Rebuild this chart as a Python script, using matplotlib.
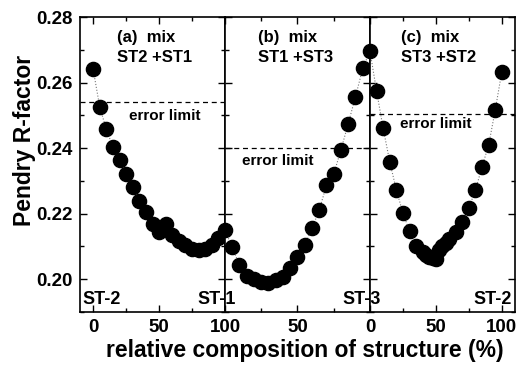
import matplotlib
matplotlib.use("Agg")
import matplotlib.pyplot as plt
from matplotlib.ticker import MultipleLocator, FixedLocator

plt.rcParams['font.family'] = ['Liberation Sans', 'DejaVu Sans']
plt.rcParams['font.weight'] = 'bold'

# Panel (a): ST2 + ST1, composition of ST1 (%)
xa = [0, 5, 10, 15, 20, 25, 30, 35, 40, 45, 50, 55, 60, 65, 70, 75, 80, 85, 90, 95, 100]
ya = [0.2640, 0.2525, 0.2457, 0.2403, 0.2363, 0.2320, 0.2280, 0.2240, 0.2204, 0.2170,
      0.2143, 0.2170, 0.2135, 0.2118, 0.2103, 0.2093, 0.2090, 0.2093, 0.2105, 0.2127, 0.2150]
# Panel (b): ST1 + ST3 (axis reversed 100 -> 0)
xb = [100, 95, 90, 85, 80, 75, 70, 65, 60, 55, 50, 45, 40, 35, 30, 25, 20, 15, 10, 5, 0]
yb = [0.2150, 0.2097, 0.2043, 0.2009, 0.2002, 0.1992, 0.1989, 0.1997, 0.2007, 0.2033,
      0.2068, 0.2104, 0.2155, 0.2211, 0.2287, 0.2321, 0.2395, 0.2475, 0.2557, 0.2643, 0.2697]
# Panel (c): ST3 + ST2
xc = [0, 5, 10, 15, 20, 25, 30, 35, 40, 42.5, 45, 47.5, 50, 52.5, 55, 57.5, 60, 65,
      70, 75, 80, 85, 90, 95, 100]
yc = [0.2695, 0.2574, 0.2460, 0.2358, 0.2272, 0.2202, 0.2146, 0.2101, 0.2082, 0.2073,
      0.2068, 0.2066, 0.2063, 0.2090, 0.2102, 0.2112, 0.2122, 0.2145, 0.2175, 0.2218,
      0.2272, 0.2343, 0.2409, 0.2516, 0.2633]

error_limits = [0.2542, 0.2400, 0.2505]
titles = ["(a)  mix\nST2 +ST1", "(b)  mix\nST1 +ST3", "(c)  mix\nST3 +ST2"]
xlims = [(-10, 100), (100, 0), (0, 110)]
xticklabels = [["0", "50", "100"], ["", "50", "0"], ["", "50", "100"]]
xticks = [[0, 50, 100], [100, 50, 0], [0, 50, 100]]
yticks = [0.20, 0.22, 0.24, 0.26, 0.28]
ylabels_txt = ["0.20", "0.22", "0.24", "0.26", "0.28"]

W, H = 523, 365
fig = plt.figure(figsize=(W / 100, H / 100), dpi=100)

left0 = 80 / W
pw = 145 / W
bottom = (H - 312) / H
height = (312 - 17) / H

data = [(xa, ya), (xb, yb), (xc, yc)]
axes = []
for i in range(3):
    ax = fig.add_axes([left0 + i * pw, bottom, pw, height])
    axes.append(ax)
    x, y = data[i]
    ax.plot(x, y, ls=':', color='#777777', lw=0.8, zorder=2)
    ax.plot(x, y, ls='none', marker='o', ms=10.2, color='black', mec='black', zorder=3)
    ax.axhline(error_limits[i], color='black', ls=(0, (4, 3)), lw=0.9, zorder=1)
    ax.set_xlim(*xlims[i])
    ax.set_ylim(0.19, 0.28)
    ax.set_xticks(xticks[i])
    ax.set_xticklabels(xticklabels[i])
    ax.xaxis.set_minor_locator(FixedLocator([25, 75]))
    ax.set_yticks(yticks)
    ax.yaxis.set_minor_locator(MultipleLocator(0.01))
    if i == 0:
        ax.set_yticklabels(ylabels_txt)
    else:
        ax.set_yticklabels([])
    ax.tick_params(which='both', direction='in', top=True, right=True, width=1)
    ax.tick_params(which='major', length=5, labelsize=13.5, pad=5)
    ax.tick_params(which='minor', length=3)
    for sp in ax.spines.values():
        sp.set_linewidth(1.2)
    for lab in ax.get_xticklabels() + ax.get_yticklabels():
        lab.set_fontweight('bold')

# titles
title_pos = [(117, 30), (258, 30), (401, 30)]
for i, (px, py) in enumerate(title_pos):
    fig.text(px / W, 1 - py / H, titles[i], ha='left', va='top', fontsize=12,
             fontweight='bold', linespacing=1.45)

# error limit labels
err_pos = [(129, 116), (242, 161), (400, 124)]
for px, py in err_pos:
    fig.text(px / W, 1 - py / H, "error limit", ha='left', va='center', fontsize=11,
             fontweight='bold')

# structure labels
fig.text(82 / W, 1 - 299 / H, "ST-2", ha='left', va='center', fontsize=13, fontweight='bold')
fig.text(217 / W, 1 - 299 / H, "ST-1", ha='center', va='center', fontsize=13, fontweight='bold')
fig.text(362 / W, 1 - 299 / H, "ST-3", ha='center', va='center', fontsize=13, fontweight='bold')
fig.text(512 / W, 1 - 299 / H, "ST-2", ha='right', va='center', fontsize=13, fontweight='bold')

fig.text(25 / W, 1 - 140 / H, "Pendry R-factor", rotation=90, ha='center', va='center',
         fontsize=16.5, fontweight='bold')
fig.text(305 / W, 1 - 350 / H, "relative composition of structure (%)", ha='center',
         va='center', fontsize=16.5, fontweight='bold')

fig.savefig("out.png", dpi=100)
